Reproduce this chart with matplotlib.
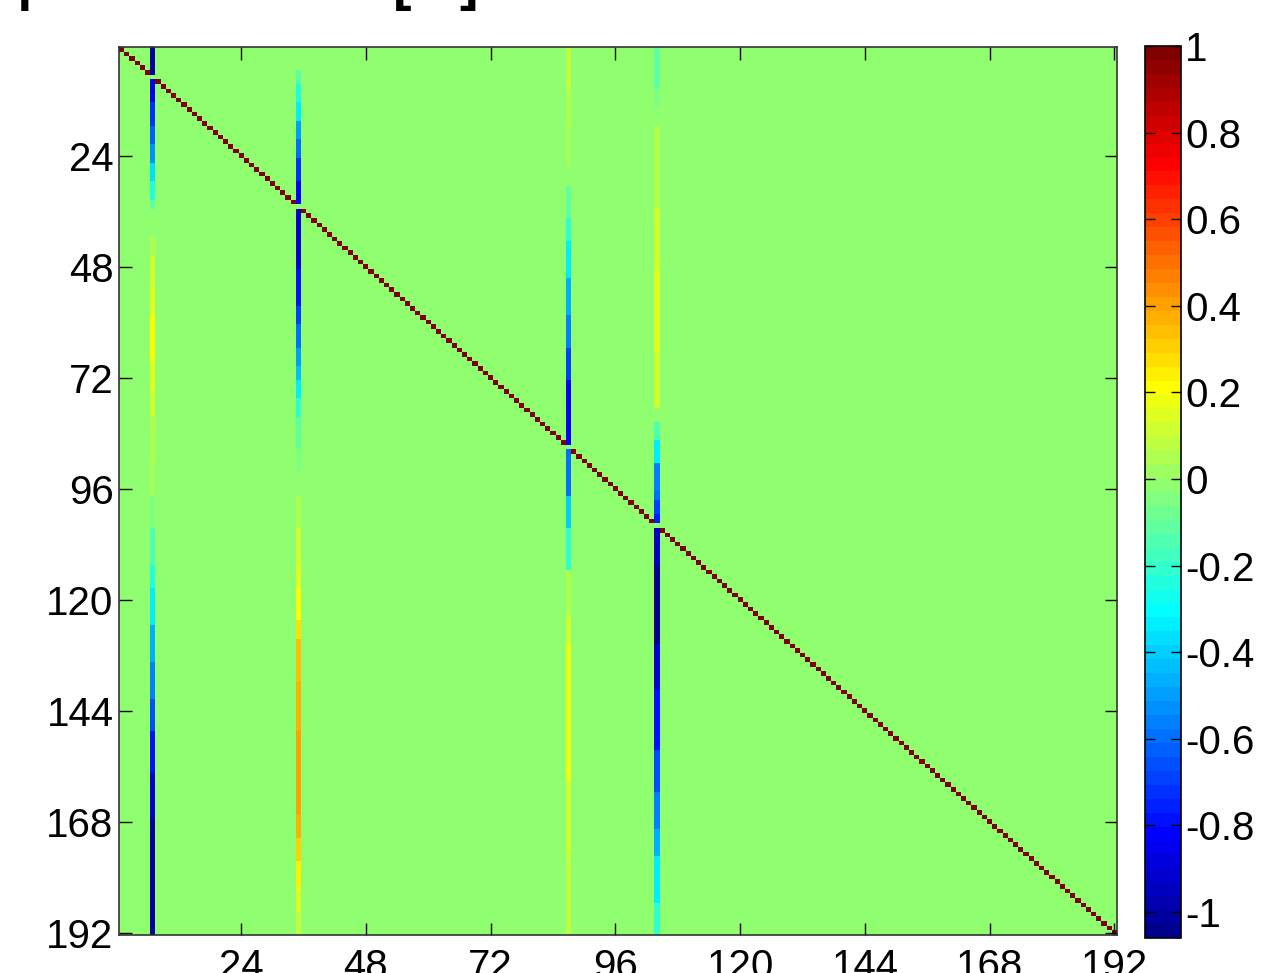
import numpy as np
import matplotlib
matplotlib.use('Agg')
import matplotlib.pyplot as plt
from matplotlib.colors import ListedColormap

plt.rcParams['font.family'] = ['Liberation Sans', 'DejaVu Sans']
plt.rcParams['axes.unicode_minus'] = False

# ---------------- data ----------------
N = 192
special_cols = [7, 35, 87, 104]

# run-length readings (rows, value) for each special column, top to bottom
col7_counts = [6, 1, 5, 5, 4, 4, 4, 4, 2, 6, 4, 7, 6, 10, 6, 6, 10, 7, 7, 8, 5, 8, 8, 8, 7, 9, 10, 25]
col7_values = [-1.02, 0, -0.85, -0.72, -0.62, -0.52, -0.36, -0.25, -0.12, -0.03, 0.04, 0.1, 0.15, 0.2,
               0.15, 0.1, 0.05, 0.02, -0.05, -0.15, -0.25, -0.33, -0.45, -0.55, -0.65, -0.8, -0.9, -1.02]

col35_counts = [5, 2, 1, 4, 4, 4, 4, 5, 5, 1, 13, 8, 4, 5, 4, 3, 4, 4, 7, 5, 5, 7, 8, 5, 7, 4, 9, 11, 18, 5, 5, 6, 5, 5]
col35_values = [0, -0.1, -0.15, -0.25, -0.33, -0.5, -0.6, -0.72, -0.82, 0, -0.92, -0.8, -0.7, -0.6, -0.5,
                -0.42, -0.32, -0.22, -0.12, -0.06, 0, 0.05, 0.1, 0.15, 0.22, 0.28, 0.33, 0.38, 0.42,
                0.37, 0.3, 0.24, 0.15, 0.08]

col87_counts = [9, 8, 9, 4, 7, 5, 8, 8, 7, 7, 14, 1, 10, 7, 9, 10, 6, 30, 15, 18]
col87_values = [0.08, 0.05, 0.03, 0, -0.1, -0.2, -0.33, -0.45, -0.55, -0.68, -0.83, 0, -0.6, -0.4, -0.2,
                0.05, 0.1, 0.17, 0.12, 0.07]

col104_counts = [9, 4, 4, 18, 13, 18, 12, 3, 4, 5, 6, 2, 3, 2, 1, 8, 17, 10, 13, 9, 8, 6, 10, 7]
col104_values = [-0.12, -0.06, 0, 0.05, 0.1, 0.15, 0.1, 0, -0.15, -0.33, -0.55, -0.6, -0.68, -0.75, 0,
                 -0.95, -1.03, -0.92, -0.8, -0.65, -0.55, -0.45, -0.33, -0.22]

axis_ticks = [24, 48, 72, 96, 120, 144, 168, 192]
cbar_ticks = [-1, -0.8, -0.6, -0.4, -0.2, 0, 0.2, 0.4, 0.6, 0.8, 1]
cbar_labels = ['-1', '-0.8', '-0.6', '-0.4', '-0.2', '0', '0.2', '0.4', '0.6', '0.8', '1']
clim = (-1.06, 1.0)


def matlab_jet(m=64):
    n = int(np.ceil(m / 4))
    u = np.concatenate([np.arange(1, n + 1) / n, np.ones(n - 1), np.arange(n, 0, -1) / n])
    g = int(np.ceil(n / 2)) - (1 if m % 4 == 1 else 0) + np.arange(1, len(u) + 1)
    r = g + n
    b = g - n
    J = np.zeros((m, 3))
    for ch, idx in ((0, r), (1, g), (2, b)):
        mask = (idx >= 1) & (idx <= m)
        J[idx[mask] - 1, ch] = u[mask]
    return ListedColormap(J)


M = np.eye(N)
for col, counts, vals in ((7, col7_counts, col7_values), (35, col35_counts, col35_values),
                          (87, col87_counts, col87_values), (104, col104_counts, col104_values)):
    M[:, col - 1] = np.repeat(vals, counts)

W, H = 1273, 973
fig = plt.figure(figsize=(W / 100, H / 100), dpi=100)
ax = fig.add_axes([119 / W, 38 / H, 998 / W, 888 / H])
im = ax.imshow(M, cmap=matlab_jet(64), vmin=clim[0], vmax=clim[1], interpolation='nearest',
               aspect='auto', extent=(0.5, N + 0.5, N + 0.5, 0.5))
ax.set_xlim(0.5, N + 0.5)
ax.set_ylim(N + 0.5, 0.5)
ax.set_xticks(axis_ticks)
ax.set_yticks(axis_ticks)
ax.set_xticklabels([str(t) for t in axis_ticks])
ax.set_yticklabels([str(t) for t in axis_ticks])
ax.tick_params(direction='in', length=9, width=1, top=True, right=True, labelsize=29, colors='black')
ax.tick_params(axis='x', pad=9)
ax.tick_params(axis='y', pad=4)
for s in ax.spines.values():
    s.set_linewidth(1.2)
    s.set_color('#333333')

cax = fig.add_axes([1145 / W, 35 / H, 36 / W, 892 / H])
cb = fig.colorbar(im, cax=cax, ticks=cbar_ticks)
cb.ax.set_yticklabels(cbar_labels)
cax.tick_params(direction='in', left=True, right=True, length=7, width=1, labelsize=29, pad=3)
cb.outline.set_linewidth(1.2)

# partially visible title fragments at the top edge
fig.text(25 / W, 1 - 11 / H, '|', fontsize=40, fontweight='bold', ha='center', va='bottom')
fig.text(402 / W, 1 - 11 / H, '[', fontsize=40, fontweight='bold', ha='center', va='bottom')
fig.text(469 / W, 1 - 11 / H, ']', fontsize=40, fontweight='bold', ha='center', va='bottom')

fig.savefig('out.png', dpi=100)
